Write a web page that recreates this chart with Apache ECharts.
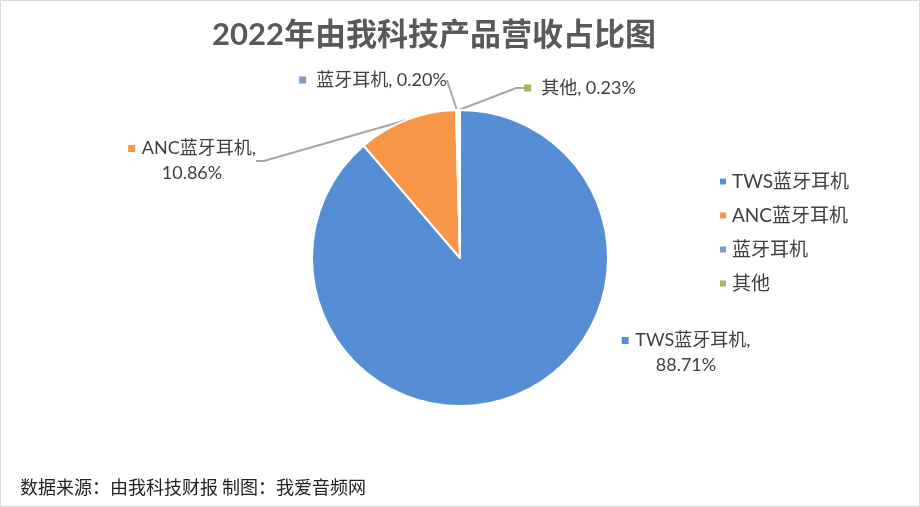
<!DOCTYPE html>
<html>
<head>
<meta charset="utf-8">
<script src="https://cdn.jsdelivr.net/npm/echarts@6/dist/echarts.min.js"></script>
<style>
  html, body { margin: 0; padding: 0; background: #fff; }
  #main { width: 920px; height: 507px; }
</style>
</head>
<body>
<div id="main"></div>
<script>
  // 数据
  var categories = ['TWS蓝牙耳机', 'ANC蓝牙耳机', '蓝牙耳机', '其他']
  var shares = [88.71, 10.86, 0.20, 0.23]
  var colors = ['#558ed5', '#f79646', '#7f9bc8', '#9bbb59']

  var FONT = 'Lato, "Noto Sans CJK SC", sans-serif'

  // 标签摆放位置 (中心点)
  var labelPos = [
    [686, 353],
    [192, 161],
    [373, 80],
    [580, 88]
  ]

  var chart = echarts.init(document.getElementById('main'))

  var rich = { t: { fontSize: 18, color: '#404040', fontFamily: FONT, lineHeight: 25 } }
  colors.forEach(function (c, i) {
    rich['m' + i] = { width: 7, height: 7, backgroundColor: c, padding: 0 }
  })

  chart.setOption({
    animation: false,
    color: colors,
    title: {
      text: '2022年由我科技产品营收占比图',
      left: 429,
      top: 15,
      textAlign: 'center',
      textStyle: {
        fontSize: 31,
        fontWeight: 'bold',
        color: '#595959',
        fontFamily: FONT
      }
    },
    legend: {
      orient: 'vertical',
      left: 713,
      top: 167,
      icon: 'rect',
      itemWidth: 8,
      itemHeight: 8,
      itemGap: 15,
      textStyle: { fontSize: 19, color: '#404040', fontFamily: FONT },
      data: categories
    },
    graphic: [
      {
        type: 'rect',
        shape: { x: 0.5, y: 0.5, width: 919, height: 506 },
        style: { fill: 'none', stroke: '#d9d9d9', lineWidth: 1 }
      },
      {
        type: 'text',
        left: 20,
        top: 478,
        style: {
          text: '数据来源：由我科技财报 制图：我爱音频网',
          fontSize: 18,
          fill: '#222',
          fontFamily: '"Noto Sans CJK SC", sans-serif'
        }
      }
    ],
    series: [{
      type: 'pie',
      center: [460, 258],
      radius: 148,
      startAngle: 90,
      clockwise: true,
      itemStyle: { borderColor: '#fff', borderWidth: 2 },
      label: {
        show: true,
        position: 'outside',
        align: 'center',
        rich: rich,
        formatter: function (p) {
          var i = p.dataIndex
          var v = shares[i].toFixed(2) + '%'
          if (i < 2) {
            return '{m' + i + '|}  {t|' + p.name + ',}\n{t|' + v + '}'
          }
          return '{m' + i + '|}   {t|' + p.name + ', ' + v + '}'
        }
      },
      labelLine: {
        show: true,
        length: 10,
        length2: 8,
        lineStyle: { color: '#a6a6a6', width: 2 }
      },
      labelLayout: function (params) {
        var pos = labelPos[params.dataIndex]
        return {
          x: pos[0],
          y: pos[1],
          align: 'center',
          verticalAlign: 'middle'
        }
      },
      data: categories.map(function (name, i) {
        var item = { name: name, value: shares[i] }
        if (i === 0) item.labelLine = { show: false }
        if (i === 2) item.labelLine = { length: 0, length2: 0 }
        return item
      })
    }]
  })
</script>
</body>
</html>
